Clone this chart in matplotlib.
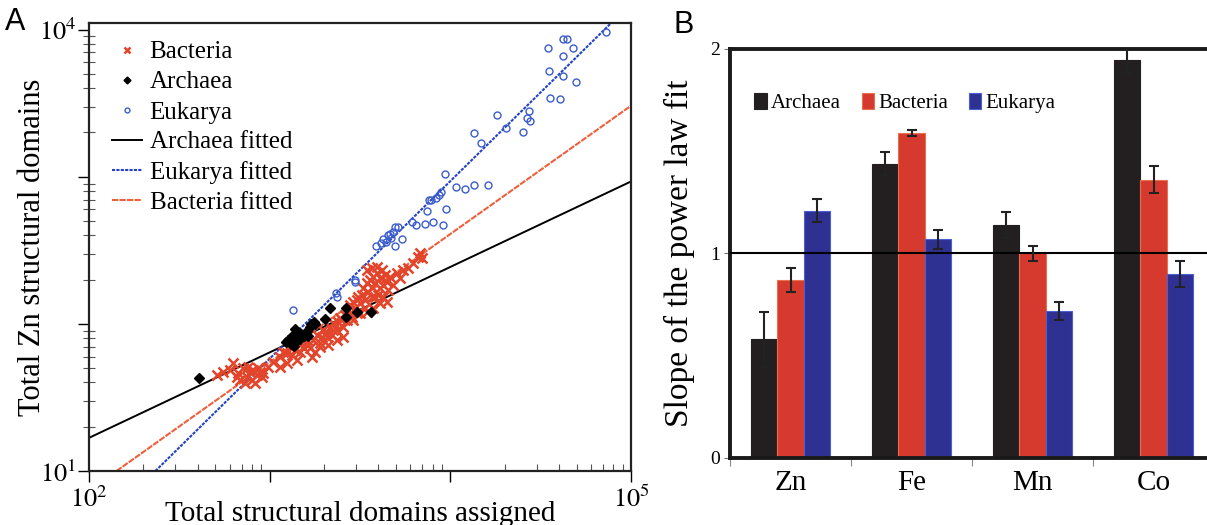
import matplotlib
matplotlib.use("Agg")
import matplotlib.pyplot as plt
import numpy as np

plt.rcParams['font.family'] = ['Liberation Serif', 'DejaVu Serif']
plt.rcParams['mathtext.fontset'] = 'stix'

# ---- panel A data ----
euk_x = [72800, 34700, 41800, 44500, 47500, 41800, 35200, 41800, 49300, 35700,
         40500, 18200, 27300, 26400, 27500, 20400, 25100, 13600, 14800, 9400,
         10800, 12000, 13600, 16100, 9440, 8870, 8650, 8340, 7800, 7590,
         7400, 8000, 7210, 6430, 9160, 6170, 5140, 4960, 4810, 4630,
         4520, 4710, 4400, 4240, 4110, 3900, 5420, 4960, 2980, 2950,
         2330, 2370, 1350]
euk_y = [9640, 7500, 8630, 8690, 7500, 6650, 5250, 4830, 4420, 3420,
         3390, 2620, 2820, 2520, 2400, 2160, 2030, 1990, 1710, 1040,
         855, 832, 873, 882, 605, 786, 750, 719, 697, 690,
         583, 493, 475, 468, 471, 493, 456, 454, 422, 411,
         400, 384, 361, 376, 355, 337, 380, 340, 200, 192,
         163, 152, 125]

arc_x = [406, 1265, 1310, 1365, 1400, 1380, 1440, 1500, 1555, 1600, 1640, 1700,
         1750, 1790, 2020, 2160, 2630, 2660, 3050, 3630, 1230, 1330, 1475, 1680]
arc_y = [42.7, 78, 73, 71, 76, 93, 88, 85.5, 83, 90, 83, 100,
         103, 100, 108, 128, 128, 111, 120, 121, 75, 83, 79, 95]

bac_x = [509, 554, 603, 629, 671, 715, 746, 778, 812, 847, 884, 795, 730, 829,
         903, 656, 685, 762, 865, 922, 982, 1047, 1140, 1189, 1241, 1295, 1323,
         1380, 1441, 1471, 1536, 1602, 1636, 1671, 1744, 1781, 1819, 1898, 1939,
         1981, 2067, 2157, 2203, 2250, 2348, 2398, 2449, 2556, 2610, 2667, 2724,
         2782, 2842, 2903, 2965, 3029, 3094, 3160, 3228, 3297, 3369, 3440, 3514,
         3591, 3668, 3745, 3825, 3909, 3993, 4078, 4165, 4256, 4346, 4440, 4535,
         4633, 4833, 5042, 5261, 5489, 5851, 6236, 6645, 6934, 6789, 1898, 2067,
         2250, 2502, 2903, 3160, 3440, 3745, 4078, 3668, 3440, 3668, 3909, 4078,
         3825, 4256, 4440, 3369, 3029, 2556, 2348, 2110, 1707, 1410, 1241, 1140,
         1351, 1503]
bac_y = [44.9, 47.3, 48.6, 53.9, 46.1, 49.9, 43.8, 47.3, 48.6, 44.9, 47.3, 41.6,
         39.4, 39.4, 43.8, 43.8, 41.6, 51.2, 49.9, 46.1, 51.2, 55.4, 59.9, 64.7,
         63.1, 70.0, 61.5, 66.5, 73.8, 64.7, 70.0, 77.7, 71.9, 68.2, 77.7, 64.7,
         84.1, 73.8, 81.9, 90.9, 86.3, 95.8, 84.1, 100.9, 90.9, 103.6, 109.1,
         95.8, 115.0, 106.3, 124.3, 134.4, 112.0, 141.6, 127.6, 145.3, 153.1,
         138.0, 157.2, 174.5, 145.3, 188.7, 165.6, 198.8, 179.1, 209.5, 188.7,
         220.7, 157.2, 204.1, 232.5, 183.8, 215.0, 193.7, 170.0, 209.5, 183.8,
         220.7, 204.1, 232.5, 238.6, 258.0, 286.4, 279.0, 301.7, 70.0, 81.9,
         90.9, 106.3, 106.3, 118.0, 121.1, 127.6, 138.0, 153.1, 232.5, 238.6,
         245.0, 174.5, 153.1, 153.1, 141.6, 127.6, 118.0, 81.9, 77.7, 71.9,
         59.9, 56.8, 53.9, 51.2, 77.7, 81.9]

# fitted power-law lines, end points
arc_fit_x = [100, 100000]
arc_fit_y = [16.8, 929]
euk_fit_x = [233, 80000]
euk_fit_y = [10, 11500]
bac_fit_x = [142, 100000]
bac_fit_y = [10, 3040]

# ---- panel B data ----
metals = ['Zn', 'Fe', 'Mn', 'Co']
groups = ['Archaea', 'Bacteria', 'Eukarya']
slope_arc = [0.58, 1.44, 1.14, 1.945]
slope_bac = [0.87, 1.59, 1.00, 1.36]
slope_euk = [1.21, 1.07, 0.72, 0.90]
err_arc = [0.135, 0.055, 0.065, 0.06]
err_bac = [0.057, 0.015, 0.035, 0.066]
err_euk = [0.056, 0.046, 0.044, 0.062]

W, H = 1207, 525
fig = plt.figure(figsize=(W / 100, H / 100), dpi=100)

# ================= panel A =================
axA = fig.add_axes([89 / W, 1 - 471 / H, 542 / W, 448 / H])
axA.set_xscale('log')
axA.set_yscale('log')

red = '#e2452b'
blue = '#3a5ccc'
axA.plot(bac_x, bac_y, 'x', color=red, ms=6.5, mew=1.8, label='Bacteria', zorder=3)
axA.plot(arc_x, arc_y, 'D', color='black', ms=5, label='Archaea', zorder=4)
axA.plot(euk_x, euk_y, 'o', mfc='none', mec=blue, ms=5, mew=1.0, label='Eukarya', zorder=3)
axA.plot(arc_fit_x, arc_fit_y, '-', color='black', lw=1.4, label='Archaea fitted', zorder=2)
axA.plot(euk_fit_x, euk_fit_y, color='#2442c4', lw=1.5, ls=(0, (1.5, 0.6)), label='Eukarya fitted', zorder=2)
axA.plot(bac_fit_x, bac_fit_y, color='#ee5f3c', lw=1.5, ls=(0, (3, 0.6)), label='Bacteria fitted', zorder=2)

axA.set_xlim(100, 1e5)
axA.set_ylim(10, 11100)
axA.set_xticks([1e2, 1e3, 1e4, 1e5])
axA.set_xticklabels(['$10^2$', '', '', '$10^5$'])
axA.set_yticks([1e1, 1e2, 1e3, 1e4])
axA.set_yticklabels(['$10^1$', '', '', '$10^4$'])
axA.tick_params(axis='both', which='major', direction='out', length=8, width=1.0,
                labelsize=19, pad=1)
axA.tick_params(axis='x', which='major', pad=3)
axA.tick_params(axis='x', which='minor', direction='in', length=5, width=0.8, color='#555555')
axA.tick_params(axis='y', which='minor', direction='inout', length=9, width=0.8, color='#555555')
for s in axA.spines.values():
    s.set_linewidth(1.6)
    s.set_color('#222222')

axA.set_xlabel('Total structural domains assigned', fontsize=21)
axA.xaxis.set_label_coords(0.5, -0.067)
axA.set_ylabel('Total Zn structural domains', fontsize=22)
axA.yaxis.set_label_coords(-0.078, 0.5)

axA.legend(loc='upper left', bbox_to_anchor=(112 / W, 1 - 41 / H), bbox_transform=fig.transFigure,
           frameon=False, fontsize=18, handlelength=1.2, handletextpad=0.3,
           labelspacing=0.3, borderpad=0, borderaxespad=0, markerscale=0.7)

fig.text(5 / W, 1 - 22 / H, 'A', family='Liberation Sans', fontsize=22, va='center', ha='left')

# ================= panel B =================
axB = fig.add_axes([730 / W, 1 - 458 / H, 484 / W, 409 / H])
x = np.arange(len(metals))
bw = 0.217
colors = ['#231f20', '#d63a2e', '#2e3192']
edges = ['#231f20', '#e8704a', '#4a5fd0']
for i, (vals, errs) in enumerate([(slope_arc, err_arc), (slope_bac, err_bac), (slope_euk, err_euk)]):
    axB.bar(x + (i - 1) * bw, vals, width=bw, color=colors[i], edgecolor=edges[i],
            linewidth=0.8, label=groups[i], zorder=2,
            yerr=errs, capsize=3.5,
            error_kw=dict(ecolor='#222222', elinewidth=1.5, capthick=1.5, zorder=4))
axB.axhline(1, color='black', lw=1.5, zorder=3)

axB.set_xlim(-0.5, 3.5)
axB.set_ylim(0, 2)
axB.set_yticks([0, 1, 2])
axB.set_yticklabels(['0', '1', '2'])
axB.tick_params(axis='y', which='major', direction='out', length=4, width=0.8,
                color='#777777', labelsize=14, pad=3)
axB.set_xticks(x)
axB.set_xticklabels(metals)
axB.tick_params(axis='x', which='major', length=0, labelsize=21, pad=9)
axB.set_xticks(np.arange(-0.5, 4.0, 1.0), minor=True)
axB.tick_params(axis='x', which='minor', direction='out', length=6, width=0.8, color='#888888')
for name in ['top', 'left', 'bottom']:
    axB.spines[name].set_linewidth(2.8)
    axB.spines[name].set_color('#1a1a1a')
axB.spines['right'].set_visible(False)

axB.set_ylabel('Slope of the power law fit', fontsize=24)
axB.yaxis.set_label_coords(-0.072, 0.5)

axB.legend(loc='upper left', bbox_to_anchor=(754 / W, 1 - 93 / H), bbox_transform=fig.transFigure,
           ncol=3, frameon=False, fontsize=15, handlelength=0.6, handleheight=0.8,
           handletextpad=0.2, columnspacing=1.0, borderpad=0, borderaxespad=0)

fig.text(673 / W, 1 - 25 / H, 'B', family='Liberation Sans', fontsize=22, va='center', ha='left')

fig.savefig('out.png', dpi=100)
